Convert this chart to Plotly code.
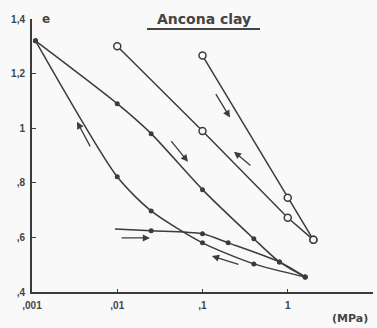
import numpy as np
import plotly.graph_objects as go

# ---- data (stress in MPa, void ratio e) ----
load1_p = [0.0011, 0.01, 0.025, 0.1, 0.4, 0.8, 1.6]
load1_e = [1.32, 1.09, 0.98, 0.775, 0.595, 0.51, 0.455]

unload1_p = [1.6, 0.4, 0.1, 0.025, 0.01, 0.0011]
unload1_e = [0.455, 0.503, 0.58, 0.697, 0.822, 1.32]

reload_p = [0.0094, 0.025, 0.1, 0.2, 0.8, 1.6]
reload_e = [0.631, 0.624, 0.613, 0.58, 0.51, 0.455]

open1_p = [0.01, 0.1, 1.0, 2.0]
open1_e = [1.30, 0.99, 0.672, 0.591]

open2_p = [0.1, 1.0, 2.0]
open2_e = [1.266, 0.745, 0.591]

# arrows: (tail_p, tail_e, head_p, head_e)
arrows = [
    (0.14, 1.130, 0.21, 1.039),
    (0.38, 0.859, 0.234, 0.914),
    (0.0416, 0.958, 0.0676, 0.877),
    (0.00492, 0.928, 0.00337, 1.024),
    (0.0108, 0.598, 0.0242, 0.598),
    (0.275, 0.499, 0.129, 0.532),
]

x_tickvals = [0.001, 0.01, 0.1, 1, 10]
x_ticktext = [",001", ",01", ",1", "1", "10"]
y_tickvals = [0.4, 0.6, 0.8, 1.0, 1.2, 1.4]
y_ticktext = [",4", ",6", ",8", "1", "1,2", "1,4"]

INK = "#3c3c3c"
BG = "#f9f9f9"

fig = go.Figure()

def add_curve(p, e, size, open_marker=False, shape="linear", mode="lines+markers"):
    fig.add_trace(go.Scatter(
        x=p, y=e, mode=mode,
        line=dict(color=INK, width=1.5, shape=shape, smoothing=0.7),
        marker=dict(
            size=size,
            color=BG if open_marker else INK,
            symbol="circle",
            line=dict(color=INK, width=1.5 if open_marker else 0),
        ),
        showlegend=False, hoverinfo="skip",
    ))

add_curve(load1_p, load1_e, 5, shape="spline")
add_curve(unload1_p, unload1_e, 5, shape="spline")
add_curve(reload_p, reload_e, 5, shape="spline", mode="lines")
add_curve(reload_p[1:], reload_e[1:], 5, mode="markers")
add_curve(open1_p, open1_e, 7, open_marker=True)
add_curve(open2_p, open2_e, 7, open_marker=True)

annotations = []
for tp, te, hp, he in arrows:
    annotations.append(dict(
        x=np.log10(hp), y=he, ax=np.log10(tp), ay=te,
        xref="x", yref="y", axref="x", ayref="y",
        showarrow=True, arrowhead=2, arrowsize=1.1, arrowwidth=1.3,
        arrowcolor=INK, text="",
    ))

L, R, T, B = 32, 4, 19, 36
W, H = 377, 328

def paper_text(px, py, text, size):
    return dict(
        x=(px - L) / (W - L - R), y=1 - (py - T) / (H - T - B),
        xref="paper", yref="paper", text=text, showarrow=False,
        font=dict(family="DejaVu Sans", size=size, color="#444"),
        xanchor="center", yanchor="middle",
    )

annotations.append(paper_text(203.5, 19, "<b>Ancona clay</b>", 14))
annotations.append(paper_text(46, 19, "<b>e</b>", 12))
annotations.append(paper_text(350, 318, "<b>(MPa)</b>", 11))

fig.update_layout(
    width=W, height=H,
    margin=dict(l=L, r=R, t=T, b=B),
    paper_bgcolor=BG, plot_bgcolor=BG,
    annotations=annotations,
    shapes=[dict(
        type="line", xref="paper", yref="paper",
        x0=(147 - L) / (W - L - R), x1=(260 - L) / (W - L - R),
        y0=1 - (29 - T) / (H - T - B), y1=1 - (29 - T) / (H - T - B),
        line=dict(color="#444", width=2),
    )],
    font=dict(family="Liberation Sans", color="#444"),
)
fig.update_xaxes(
    type="log", range=[-3, 1],
    tickvals=x_tickvals, ticktext=x_ticktext,
    showgrid=False, zeroline=False,
    showline=True, linecolor=INK, linewidth=2,
    ticks="inside", ticklen=3, tickcolor=INK,
    ticklabelstandoff=3,
    tickfont=dict(family="Liberation Sans", size=10, color="#444", weight="bold"),
)
fig.update_yaxes(
    range=[0.4, 1.4],
    tickvals=y_tickvals, ticktext=y_ticktext,
    showgrid=False, zeroline=False,
    showline=True, linecolor=INK, linewidth=2,
    ticks="inside", ticklen=4, tickcolor=INK,
    ticklabelstandoff=3,
    tickfont=dict(family="Liberation Sans", size=10, color="#444", weight="bold"),
)

fig.write_html("out.html")
